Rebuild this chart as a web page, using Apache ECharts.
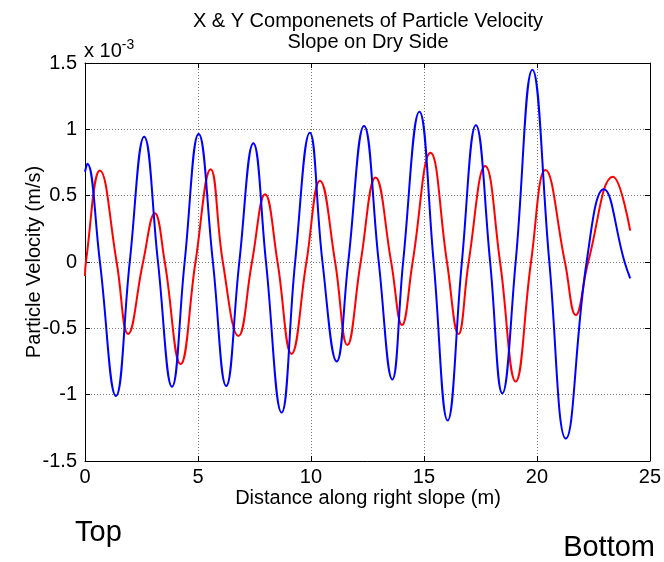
<!DOCTYPE html>
<html>
<head>
<meta charset="utf-8">
<script src="https://cdn.jsdelivr.net/npm/echarts@6/dist/echarts.min.js"></script>
<style>
html,body{margin:0;padding:0;background:#fff;}
#c{width:664px;height:562px;}
</style>
</head>
<body>
<div id="c"></div>
<script>
// Data (velocity values in units of 1e-3 m/s)
const xTicks = [0, 5, 10, 15, 20, 25];
const yTicks = [-1.5, -1, -0.5, 0, 0.5, 1, 1.5];
const blueX = [0,0.1,0.66,1.37,1.98,2.62,3.23,3.85,4.41,5.03,5.66,6.25,6.83,7.45,8.01,8.7,9.30,9.95,10.51,11.14,11.65,12.35,13.0,13.6,14.08,14.8,15.43,16.05,16.68,17.3,17.93,18.47,19.06,19.8,20.55,21.28,22.2,22.96,23.88,24.13];
const blueY = [0.68,0.74,0,-1.01,0,0.945,0,-0.94,0,0.965,0,-0.935,0,0.895,0,-1.135,0,0.975,0,-0.75,0,1.025,0,-0.885,0,1.133,0,-1.195,0,1.03,0,-0.99,0,1.45,0,-1.33,0,0.548,0,-0.123];
const redX = [0,0.04,0.66,1.40,1.91,2.57,3.09,3.53,4.23,4.89,5.56,6.10,6.79,7.39,7.97,8.52,9.14,9.80,10.4,11.07,11.61,12.2,12.86,13.55,14.03,14.5,15.29,16.02,16.53,16.98,17.71,18.37,19.06,19.74,20.38,21.24,21.72,22.27,23.37,24.13];
const redY = [-0.105,0,0.69,0,-0.543,0,0.367,0,-0.77,0,0.70,0,-0.558,0,0.51,0,-0.693,0,0.613,0,-0.626,0,0.636,0,-0.475,0,0.824,0,-0.543,0,0.724,0,-0.9,0,0.693,0,-0.40,0,0.643,0.236];
const titleLines = ['X & Y Componenets of Particle Velocity', 'Slope on Dry Side'];
const xLabel = 'Distance along right slope (m)';
const yLabel = 'Particle Velocity (m/s)';

const FONT = '"Liberation Sans", Arial, Helvetica, sans-serif';
const zip = (xs, ys) => xs.map((x, i) => [x, ys[i]]);

const chart = echarts.init(document.getElementById('c'), null, {renderer: 'canvas'});
const gridLine = {show: true, lineStyle: {color: '#7a7a7a', type: [1, 2], width: 1}};
const axisCommon = {
  axisLine: {show: true, onZero: false, lineStyle: {color: '#000', width: 1}},
  axisTick: {show: true, inside: true, length: 5, lineStyle: {color: '#000'}},
};
chart.setOption({
  animation: false,
  backgroundColor: '#fff',
  grid: {left: 85, right: 12, top: 63, bottom: 101, containLabel: false},
  xAxis: [
    Object.assign({
      type: 'value', min: xTicks[0], max: xTicks[xTicks.length - 1], interval: 5,
      axisLabel: {color: '#000', fontSize: 20, fontFamily: FONT, margin: 6},
      splitLine: gridLine
    }, axisCommon),
    Object.assign({
      type: 'value', position: 'top', min: 0, max: 25, interval: 5,
      axisLabel: {show: false}, splitLine: {show: false}
    }, axisCommon)
  ],
  yAxis: [
    Object.assign({
      type: 'value', min: yTicks[0], max: yTicks[yTicks.length - 1], interval: 0.5,
      axisLabel: {color: '#000', fontSize: 20, fontFamily: FONT, margin: 8},
      splitLine: gridLine
    }, axisCommon),
    Object.assign({
      type: 'value', position: 'right', min: -1.5, max: 1.5, interval: 0.5,
      axisLabel: {show: false}, splitLine: {show: false}
    }, axisCommon)
  ],
  series: [
    {type: 'line', name: 'Y', data: zip(redX, redY), showSymbol: false, smooth: 0.45,
     lineStyle: {color: '#ff0000', width: 2}, z: 3},
    {type: 'line', name: 'X', data: zip(blueX, blueY), showSymbol: false, smooth: 0.45,
     lineStyle: {color: '#0000ff', width: 2}, z: 4}
  ],
  graphic: [
    {type: 'text', x: 368, y: 21, style: {text: titleLines[0], font: '20px ' + FONT, fill: '#000', align: 'center', verticalAlign: 'middle'}},
    {type: 'text', x: 368, y: 42, style: {text: titleLines[1], font: '20px ' + FONT, fill: '#000', align: 'center', verticalAlign: 'middle'}},
    {type: 'text', x: 84, y: 51, style: {
      text: '{a|x 10}{b|-3}', fill: '#000', align: 'left', verticalAlign: 'middle',
      rich: {a: {fontSize: 20, fontFamily: FONT, fill: '#000'}, b: {fontSize: 14, fontFamily: FONT, fill: '#000', verticalAlign: 'bottom', padding: [0, 0, 12, 0]}}
    }},
    {type: 'text', x: 368, y: 498, style: {text: xLabel, font: '20px ' + FONT, fill: '#000', align: 'center', verticalAlign: 'middle'}},
    {type: 'text', x: 34, y: 262, rotation: Math.PI / 2, style: {text: yLabel, font: '20px ' + FONT, fill: '#000', align: 'center', verticalAlign: 'middle'}},
    {type: 'text', x: 75, y: 533, style: {text: 'Top', font: '29px ' + FONT, fill: '#000', align: 'left', verticalAlign: 'middle'}},
    {type: 'text', x: 655, y: 548, style: {text: 'Bottom', font: '29px ' + FONT, fill: '#000', align: 'right', verticalAlign: 'middle'}}
  ]
});
</script>
</body>
</html>
